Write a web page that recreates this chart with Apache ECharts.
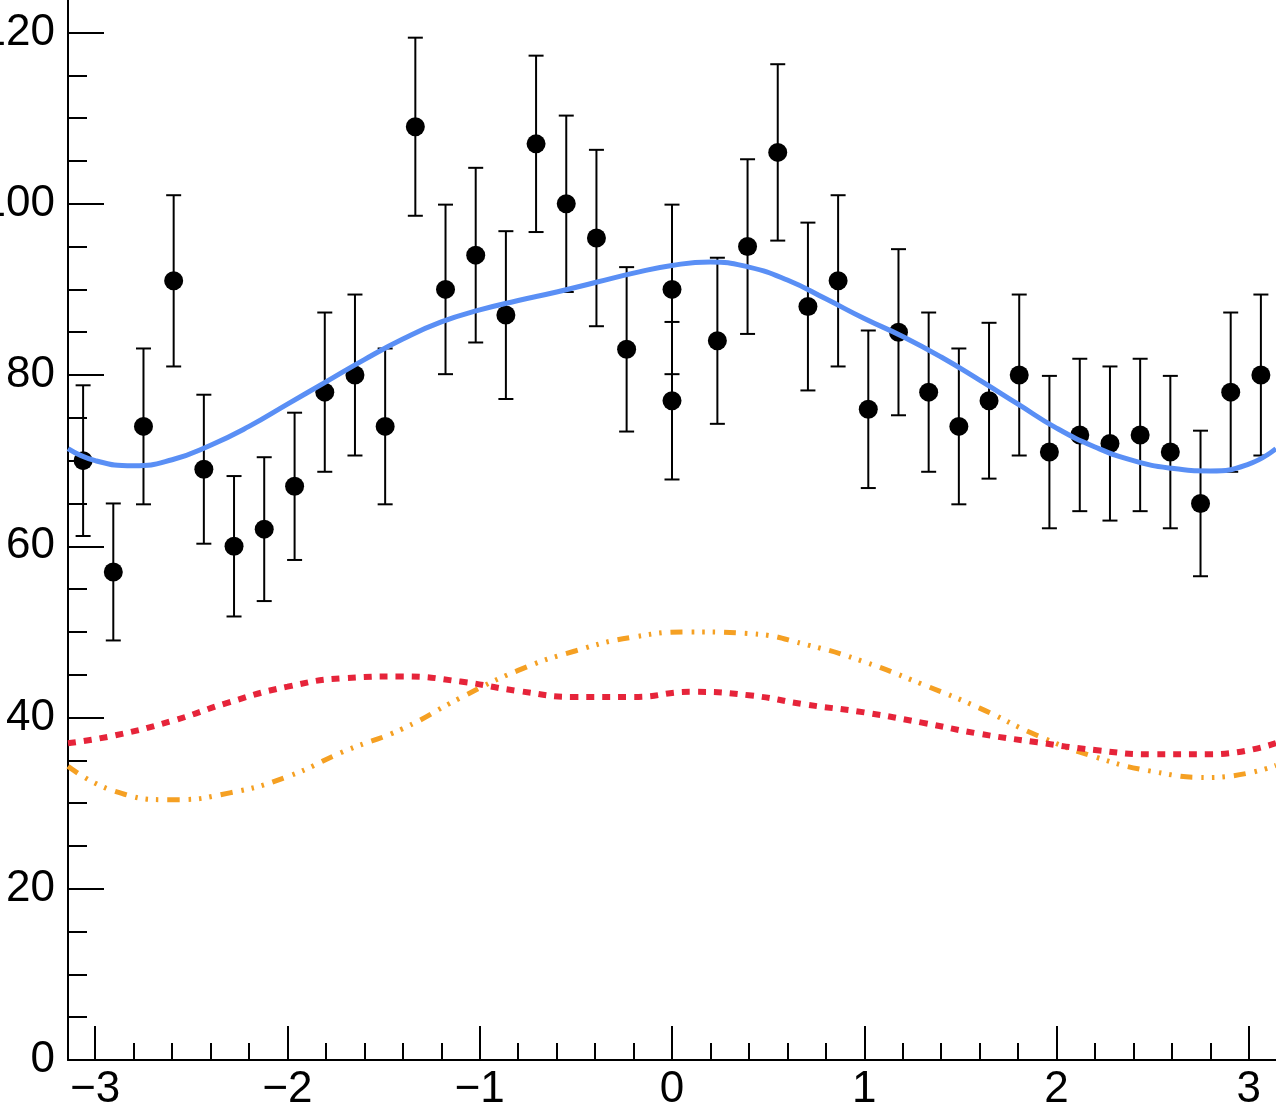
<!DOCTYPE html>
<html><head><meta charset="utf-8">
<script src="https://cdn.jsdelivr.net/npm/echarts@6/dist/echarts.min.js"></script>
<style>html,body{margin:0;padding:0;background:#fff;overflow:hidden}#c{width:1276px;height:1114px}</style>
</head><body><div id="c"></div>
<script>
// ---- data ----
const binX = [-3.063, -2.906, -2.749, -2.592, -2.435, -2.278, -2.121, -1.963, -1.806, -1.649,
              -1.492, -1.335, -1.178, -1.021, -0.864, -0.707, -0.550, -0.393, -0.236, 0,
              0, 0.236, 0.393, 0.550, 0.707, 0.864, 1.021, 1.178, 1.335, 1.492,
              1.649, 1.806, 1.963, 2.121, 2.278, 2.435, 2.592, 2.749, 2.906, 3.063];
const counts = [70, 57, 74, 91, 69, 60, 62, 67, 78, 80,
                74, 109, 90, 94, 87, 107, 100, 96, 83, 90,
                77, 84, 95, 106, 88, 91, 76, 85, 78, 74,
                77, 80, 71, 73, 72, 73, 71, 65, 78, 80];
const errors = [8.8, 8.0, 9.1, 10.0, 8.7, 8.2, 8.4, 8.6, 9.3, 9.4,
                9.1, 10.4, 9.9, 10.2, 9.8, 10.3, 10.3, 10.3, 9.6, 9.9,
                9.2, 9.7, 10.2, 10.3, 9.8, 10.0, 9.2, 9.7, 9.3, 9.1,
                9.1, 9.4, 8.9, 8.9, 9.0, 8.9, 8.9, 8.5, 9.3, 9.4];
// total fit (blue), sampled along x
const fitX = [-3.1416, -3.0, -2.8, -2.6, -2.4, -2.2, -2.0, -1.8, -1.6, -1.4, -1.2, -1.0, -0.8,
              -0.6, -0.4, -0.2, 0.0, 0.2, 0.4, 0.6, 0.8, 1.0, 1.2, 1.4, 1.6, 1.8, 2.0,
              2.2, 2.4, 2.6, 2.8, 3.0, 3.1416];
const fitY = [71.4, 70.0, 69.4, 70.1, 71.8, 74.0, 76.6, 79.2, 81.8, 84.2, 86.2, 87.6, 88.7,
              89.7, 90.8, 91.9, 92.8, 93.2, 92.6, 91.1, 88.9, 86.6, 84.5, 82.1, 79.4, 76.6, 73.8,
              71.6, 70.0, 69.1, 68.8, 69.6, 71.4];
// components (red dotted, orange dash-dot)
const compX    = [-3.1416, -2.9, -2.6, -2.3, -2.0, -1.7, -1.4, -1.1, -0.8, -0.5, -0.2,
                  0.1, 0.4, 0.7, 1.0, 1.3, 1.6, 1.9, 2.2, 2.5, 2.8, 3.1416];
const compRed  = [37.0, 37.9, 39.6, 41.8, 43.6, 44.6, 44.8, 44.2, 43.1, 42.4, 42.4,
                  43.0, 42.6, 41.5, 40.6, 39.4, 38.1, 37.1, 36.2, 35.7, 35.7, 37.0];
const compOrange = [34.3, 31.4, 30.4, 31.2, 33.1, 36.1, 38.7, 42.3, 45.5, 47.8, 49.4,
                    50.0, 49.8, 48.5, 46.5, 43.9, 41.1, 37.9, 35.4, 33.7, 33.0, 34.4];
const xMajorTicks = [-3, -2, -1, 0, 1, 2, 3];
const xMinorTicks = [-2.8, -2.6, -2.4, -2.2, -1.8, -1.6, -1.4, -1.2, -0.8, -0.6, -0.4, -0.2,
                     0.2, 0.4, 0.6, 0.8, 1.2, 1.4, 1.6, 1.8, 2.2, 2.4, 2.6, 2.8];
const yMajorTicks = [0, 20, 40, 60, 80, 100, 120];
const yMinorTicks = [5, 10, 15, 25, 30, 35, 45, 50, 55, 65, 70, 75, 85, 90, 95, 105, 110, 115];

// ---- chart ----
const FONT = '"Liberation Sans", Arial, Helvetica, sans-serif';
const black = '#000';
const chart = echarts.init(document.getElementById('c'), null, {renderer: 'canvas'});
const xBase = {type: 'value', min: -Math.PI, max: Math.PI, position: 'bottom', splitLine: {show: false}};
const yBase = {type: 'value', min: 0, max: 123.8, position: 'left', splitLine: {show: false}};
const zip = (xs, ys) => xs.map((x, i) => [x, ys[i]]);

chart.setOption({
  animation: false,
  backgroundColor: '#fff',
  grid: {left: 68, right: 0, top: 0, bottom: 54, containLabel: false, outerBoundsMode: 'none'},
  xAxis: [
    Object.assign({}, xBase, {
      axisLine: {show: true, onZero: false, lineStyle: {color: black, width: 2}},
      axisTick: {show: true, inside: true, length: 34, customValues: xMajorTicks, lineStyle: {color: black, width: 2}},
      axisLabel: {show: true, customValues: xMajorTicks, margin: 8, fontFamily: FONT, fontSize: 44, color: black,
                  hideOverlap: false,
                  formatter: v => (v < 0 ? '\u2212' : '') + Math.abs(v)}
    }),
    Object.assign({}, xBase, {
      axisLine: {show: false, onZero: false},
      axisTick: {show: true, inside: true, length: 17, customValues: xMinorTicks, lineStyle: {color: black, width: 2}},
      axisLabel: {show: false}
    })
  ],
  yAxis: [
    Object.assign({}, yBase, {
      axisLine: {show: true, onZero: false, lineStyle: {color: black, width: 2}},
      axisTick: {show: true, inside: true, length: 36, customValues: yMajorTicks, lineStyle: {color: black, width: 2}},
      axisLabel: {show: true, customValues: yMajorTicks, margin: 13, fontFamily: FONT, fontSize: 44, color: black,
                  hideOverlap: false}
    }),
    Object.assign({}, yBase, {
      axisLine: {show: false, onZero: false},
      axisTick: {show: true, inside: true, length: 19, customValues: yMinorTicks, lineStyle: {color: black, width: 2}},
      axisLabel: {show: false}
    })
  ],
  series: [
    {
      type: 'custom', name: 'errors', z: 2,
      data: binX.map((x, i) => [x, counts[i], errors[i]]),
      encode: {x: 0, y: 1},
      renderItem: function (params, api) {
        const x = api.value(0), y = api.value(1), e = api.value(2);
        const top = api.coord([x, y + e]);
        const bot = api.coord([x, y - e]);
        const hw = 7.5;
        const st = {stroke: black, lineWidth: 2};
        return {type: 'group', children: [
          {type: 'line', shape: {x1: top[0], y1: top[1], x2: bot[0], y2: bot[1]}, style: st},
          {type: 'line', shape: {x1: top[0] - hw, y1: top[1], x2: top[0] + hw, y2: top[1]}, style: st},
          {type: 'line', shape: {x1: bot[0] - hw, y1: bot[1], x2: bot[0] + hw, y2: bot[1]}, style: st}
        ]};
      }
    },
    {
      type: 'scatter', name: 'data', z: 3,
      data: zip(binX, counts),
      symbol: 'circle', symbolSize: 19,
      itemStyle: {color: black, opacity: 1}
    },
    {
      type: 'line', name: 'comp2', z: 4, smooth: true, showSymbol: false, symbol: 'none',
      data: zip(compX, compOrange),
      lineStyle: {color: '#f5a023', width: 5, type: [12, 9, 2.5, 8, 2.5, 8, 2.5, 9], cap: 'butt'}
    },
    {
      type: 'line', name: 'comp1', z: 5, smooth: true, showSymbol: false, symbol: 'none',
      data: zip(compX, compRed),
      lineStyle: {color: '#e6243a', width: 6, type: [8, 8], cap: 'butt'}
    },
    {
      type: 'line', name: 'total', z: 6, smooth: true, showSymbol: false, symbol: 'none',
      data: zip(fitX, fitY),
      lineStyle: {color: '#5a8ff5', width: 5}
    }
  ]
});
</script>
</body></html>
